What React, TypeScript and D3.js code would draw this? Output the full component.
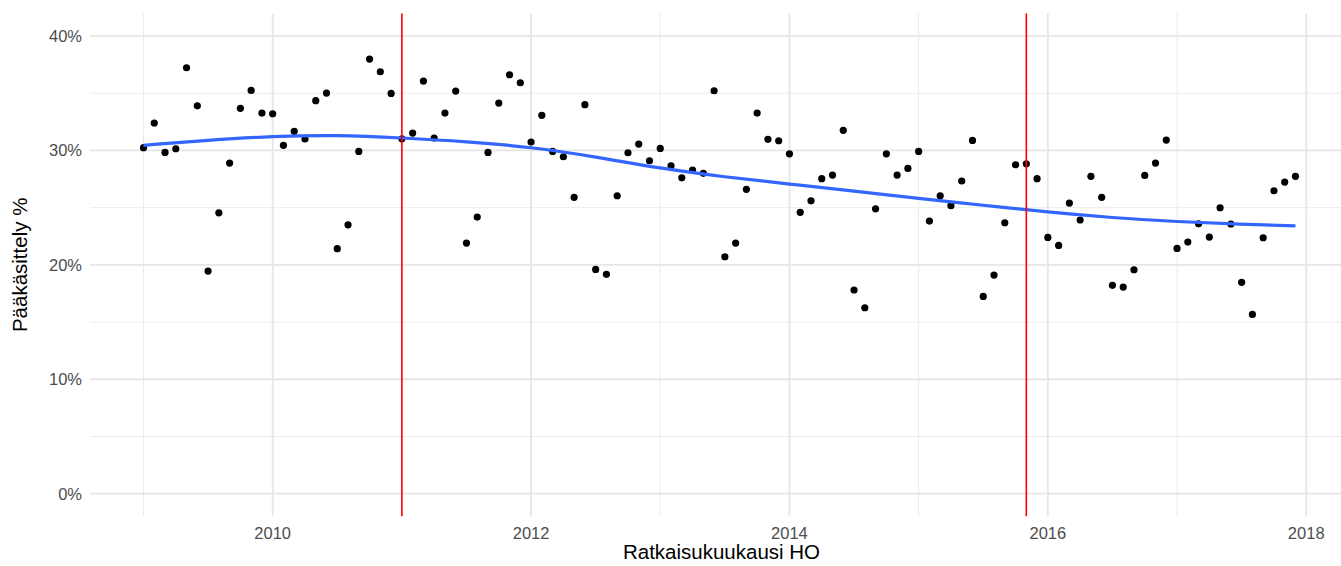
import React from "react";
import * as d3 from "d3";

const startYear = 2009;
const values: number[] = [
  30.24, 32.4, 29.83, 30.15, 37.23, 33.9, 19.46, 24.55, 28.9, 33.68, 35.25, 33.27,
  33.21, 30.45, 31.67, 31.0, 34.35, 35.02, 21.41, 23.5, 29.92, 37.99, 36.88, 34.99,
  31.02, 31.52, 36.07, 31.08, 33.27, 35.19, 21.9, 24.18, 29.83, 34.14, 36.62, 35.92,
  30.73, 33.07, 29.92, 29.45, 25.9, 34.0, 19.6, 19.17, 26.04, 29.8, 30.56, 29.1,
  30.18, 28.66, 27.61, 28.29, 28.0, 35.22, 20.71, 21.9, 26.6, 33.27, 30.97, 30.85,
  29.71, 24.59, 25.6, 27.53, 27.85, 31.76, 17.8, 16.25, 24.9, 29.71, 27.85, 28.43,
  29.92, 23.83, 26.04, 25.17, 27.33, 30.88, 17.24, 19.11, 23.68, 28.75, 28.84, 27.53,
  22.4, 21.7, 25.4, 23.92, 27.74, 25.9, 18.21, 18.06, 19.57, 27.82, 28.9, 30.91,
  21.44, 21.99, 23.59, 22.43, 24.99, 23.57, 18.47, 15.67, 22.37, 26.48, 27.24, 27.74,
];

const smoothX: number[] = [2009, 2009.5, 2010, 2010.5, 2011, 2011.5, 2012, 2012.5, 2013, 2013.5, 2014, 2014.5, 2015, 2015.5, 2016, 2016.5, 2017, 2017.5, 2017.917];
const smoothY: number[] = [30.45, 30.9, 31.25, 31.35, 31.1, 30.78, 30.3, 29.45, 28.43, 27.68, 27.06, 26.45, 25.8, 25.22, 24.6, 24.12, 23.77, 23.54, 23.4];

const vlines: number[] = [2011.0, 2015 + 10 / 12];

const xMajor: number[] = [2010, 2012, 2014, 2016, 2018];
const xMinor: number[] = [2009, 2011, 2013, 2015, 2017];
const yMajor: number[] = [0, 10, 20, 30, 40];
const yMinor: number[] = [5, 15, 25, 35];

const xTitle = "Ratkaisukuukausi HO";
const yTitle = "Pääkäsittely %";

export default function App() {
  const W = 1341, H = 566;
  const left = 90, right = 1353, top = 13.2, bottom = 516.5;
  const x = d3.scaleLinear().domain([2008.586, 2018.362]).range([left, right]);
  const y = d3.scaleLinear().domain([-2, 42]).range([bottom, top]);
  const font = "'Liberation Sans', Arial, Helvetica, sans-serif";
  const pts = values.map((v, i) => ({ t: startYear + i / 12, v }));
  const smooth = smoothX.map((t, i) => [t, smoothY[i]] as [number, number]);
  const line = d3.line<[number, number]>().x(d => x(d[0])).y(d => y(d[1])).curve(d3.curveBasis);

  return (
    <svg width={W} height={H} style={{ position: "absolute", left: 0, top: 0, background: "#fff" }} fontFamily={font}>
      <defs>
        <clipPath id="panel"><rect x={left} y={top} width={right - left} height={bottom - top} /></clipPath>
      </defs>
      <rect x={0} y={0} width={W} height={H} fill="#fff" />
      <g clipPath="url(#panel)">
        {yMinor.map(v => <line key={"ym" + v} x1={left} x2={right} y1={y(v)} y2={y(v)} stroke="#ebebeb" strokeWidth={1} />)}
        {xMinor.map(v => <line key={"xm" + v} x1={x(v)} x2={x(v)} y1={top} y2={bottom} stroke="#ebebeb" strokeWidth={1} />)}
        {yMajor.map(v => <line key={"yM" + v} x1={left} x2={right} y1={y(v)} y2={y(v)} stroke="#e6e6e6" strokeWidth={1.8} />)}
        {xMajor.map(v => <line key={"xM" + v} x1={x(v)} x2={x(v)} y1={top} y2={bottom} stroke="#e6e6e6" strokeWidth={1.8} />)}
        {pts.map((p, i) => <circle key={i} cx={x(p.t)} cy={y(p.v)} r={3.6} fill="#000" />)}
        <path d={line(smooth) || ""} fill="none" stroke="#3366FF" strokeWidth={3.2} />
        {vlines.map((v, i) => <line key={"v" + i} x1={x(v)} x2={x(v)} y1={top} y2={bottom} stroke="#ff0000" strokeWidth={1.6} />)}
      </g>
      {yMajor.map(v => (
        <text key={"yl" + v} x={82} y={y(v)} dy="0.36em" textAnchor="end" fontSize={16.5} fill="#4d4d4d">{v + "%"}</text>
      ))}
      {xMajor.map(v => (
        <text key={"xl" + v} x={x(v)} y={539.3} textAnchor="middle" fontSize={16.5} fill="#4d4d4d">{String(v)}</text>
      ))}
      <text x={(left + right) / 2} y={559.3} textAnchor="middle" fontSize={20.5} fill="#000">{xTitle}</text>
      <text transform={`translate(27, ${(top + bottom) / 2}) rotate(-90)`} textAnchor="middle" fontSize={20.5} fill="#000">{yTitle}</text>
    </svg>
  );
}
